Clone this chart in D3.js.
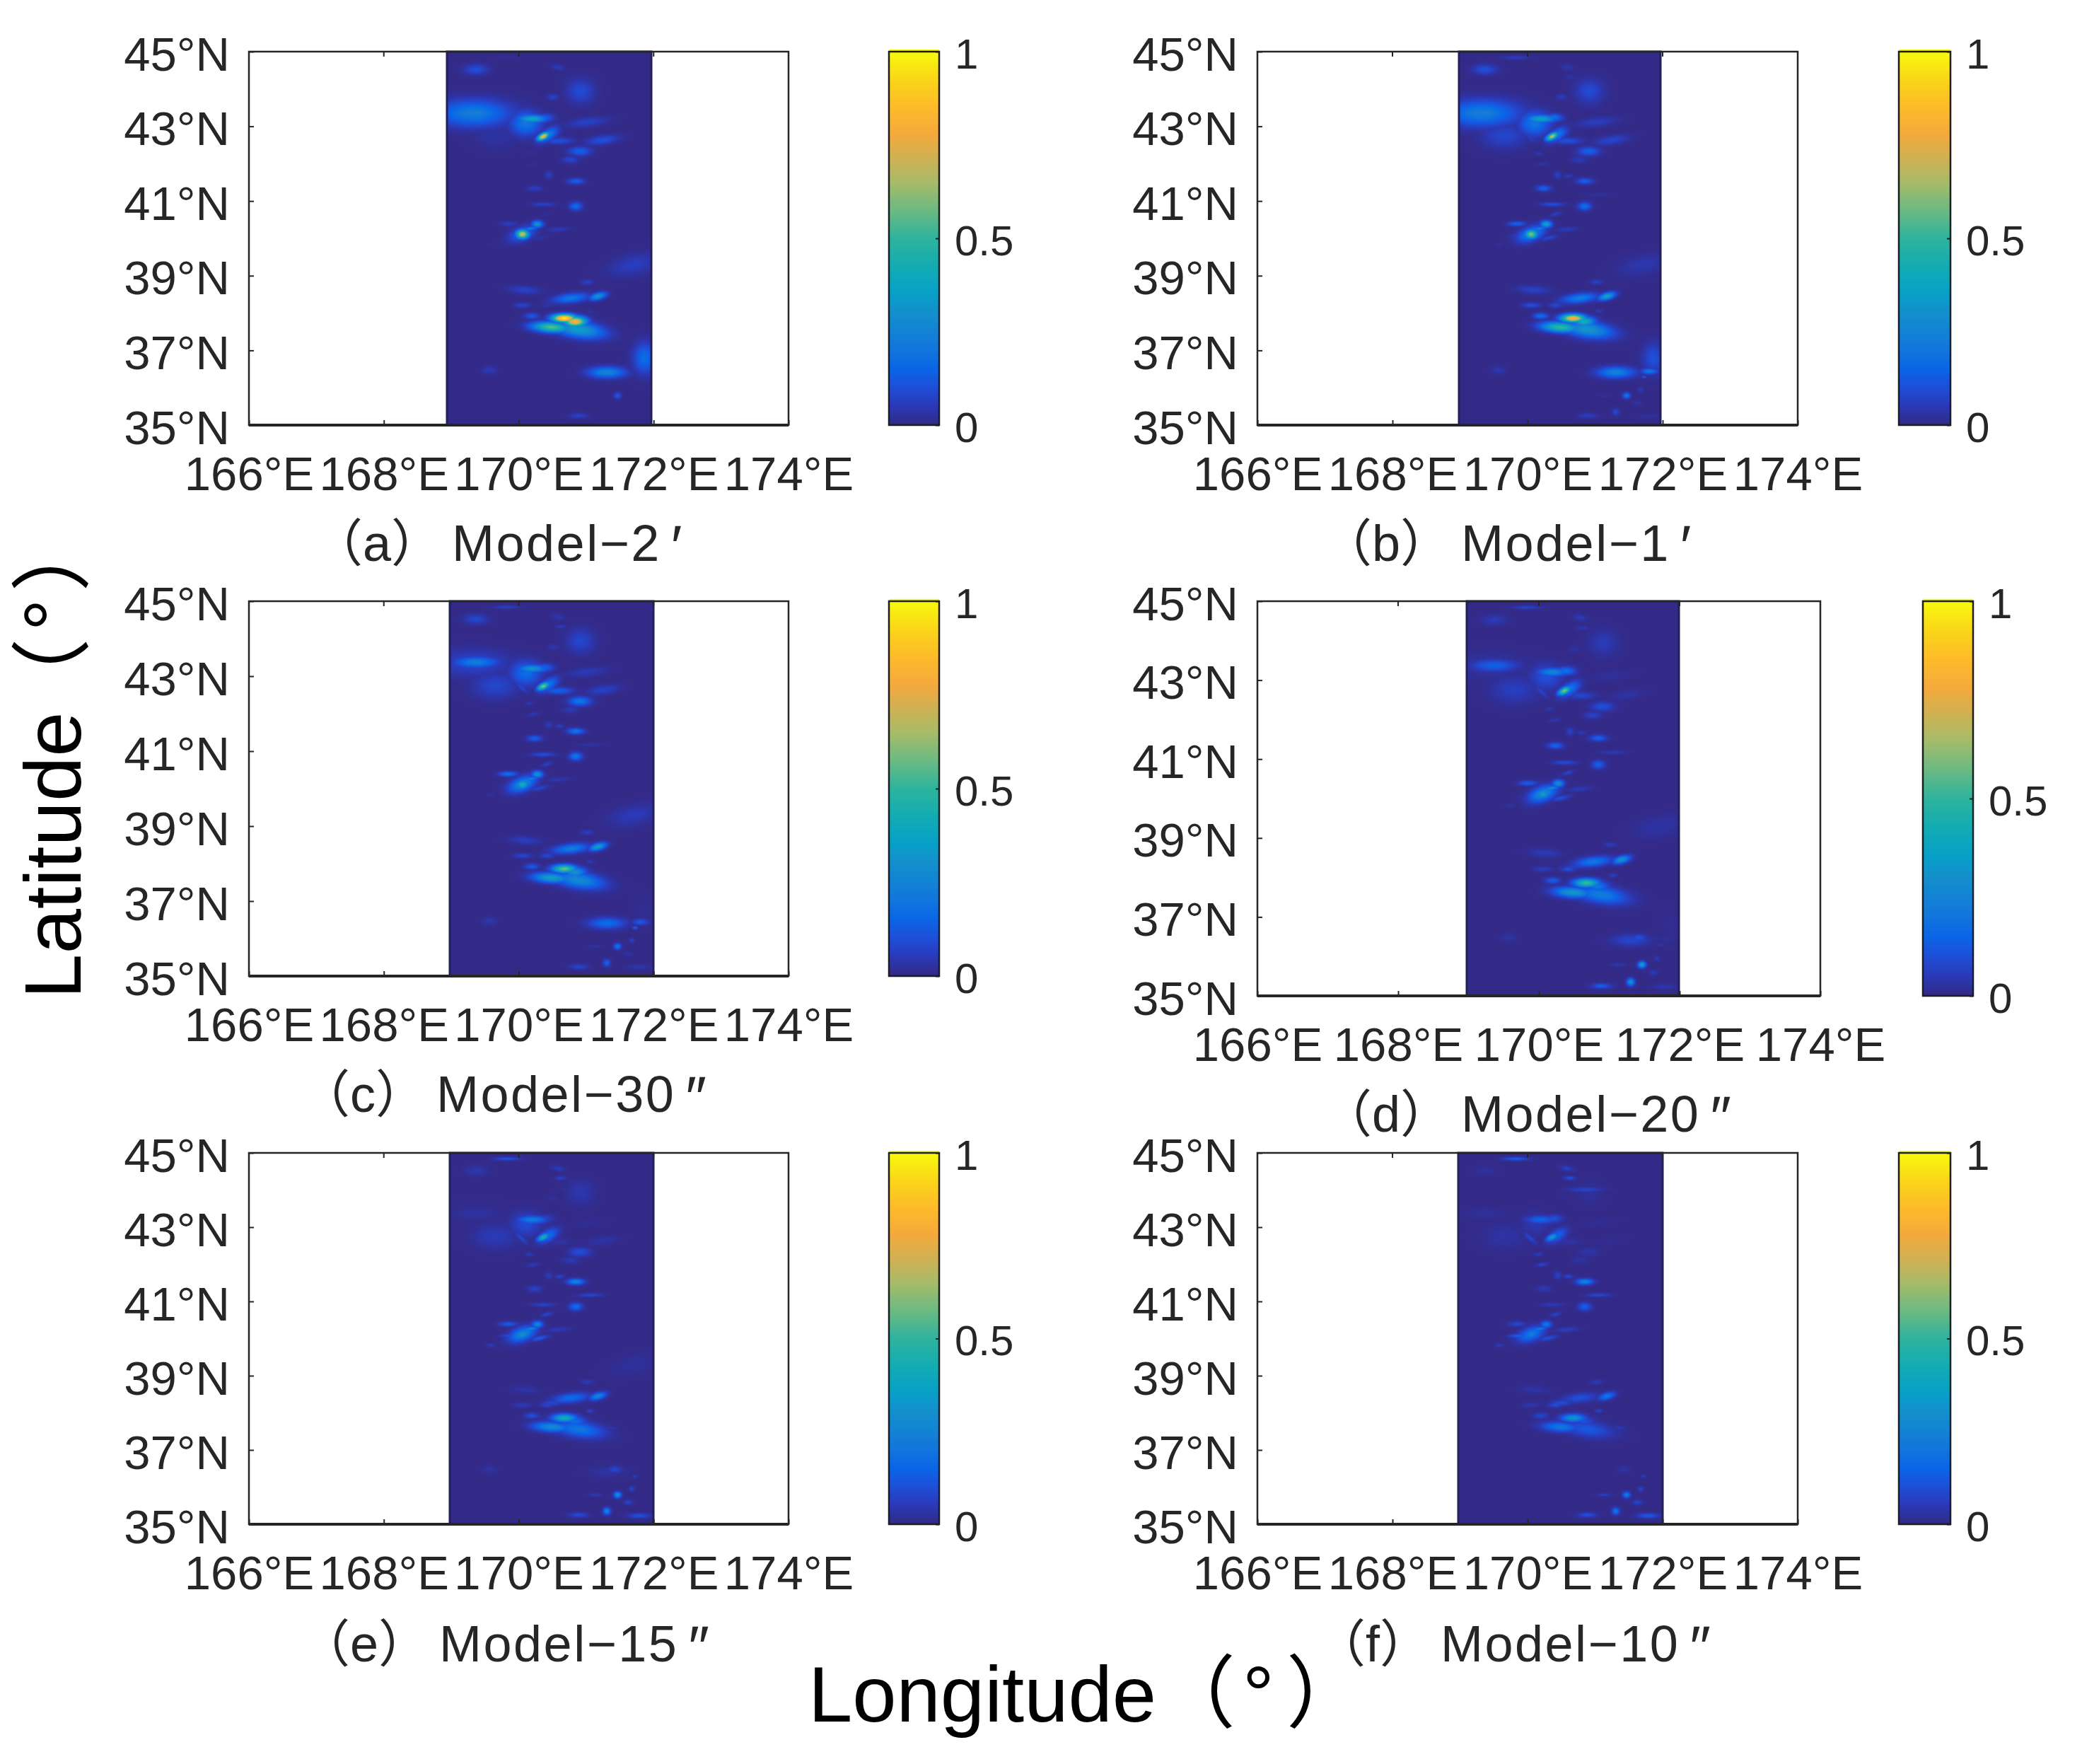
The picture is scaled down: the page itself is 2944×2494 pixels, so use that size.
<!DOCTYPE html>
<html>
<head>
<meta charset="utf-8">
<script src="https://cdn.jsdelivr.net/npm/d3@7"></script>
<style>
  html, body { margin: 0; background: #fff; }
  text { font-family: "Liberation Sans", "Noto Sans CJK SC", sans-serif; fill: #262626; }
</style>
</head>
<body>
<svg id="chart" width="2944" height="2494"></svg>
<script>
// tick labels and axis ranges
var lonTicks = [166, 168, 170, 172, 174];
var latTicks = [35, 37, 39, 41, 43, 45];
var barTicks = [0, 0.5, 1];
var dataLonStart = [168.94, 168.98, 168.98, 168.97, 168.98, 168.97];
var dataLonEnd = [171.97, 171.97, 172.0, 171.99, 172.0, 172.0];

var panelTitles = ["（a）", "（b）", "（c）", "（d）", "（e）", "（f）"];
var modelNames = ["Model−2", "Model−1", "Model−30", "Model−20", "Model−15", "Model−10"];
var modelMarks = ["′", "′", "″", "″", "″", "″"];

// colour bar stops
var colorStops = [0, 0.05, 0.1, 0.15, 0.2, 0.3, 0.35, 0.42, 0.5, 0.58, 0.65, 0.72, 0.78, 0.85, 0.92, 1];
var colorValues = ["#332a88", "#2a3ab8", "#1e4fd8", "#0a66e6", "#1276dc", "#148fcc", "#08a0c8", "#12abb4",
  "#2fb49c", "#72ba80", "#a8bb68", "#d4b050", "#f5aa3c", "#fdbb2a", "#fad41a", "#f8fa0d"];

// the visible patches of the error map: centre lon, centre lat, half width, half height (degrees), lean
var patchLon = [169.32, 169.36, 170.10, 170.19, 170.38, 170.36, 170.43, 170.58, 170.91, 170.50, 169.36, 170.58, 171.01, 171.24, 170.90, 170.76, 170.84, 170.84, 170.23, 170.44, 170.36, 170.05, 170.05, 170.27, 170.17, 169.84, 170.57, 170.67, 170.83, 170.48, 170.88, 170.77, 171.17, 170.19, 170.05, 170.08, 171.01, 171.70, 171.30, 171.86, 171.46, 170.88, 171.30, 171.42, 171.78, 171.72, 169.56, 171.67, 170.62, 169.82, 169.65, 170.86,
  170.60, 170.41, 170.30, 169.86, 169.58, 170.15, 170.21, 171.05, 170.03, 170.50, 170.41, 171.05, 171.36, 171.62, 171.13, 171.80];
var patchLat = [43.36, 43.38, 43.09, 43.21, 43.24, 42.74, 42.78, 42.62, 43.95, 43.79, 44.53, 44.59, 43.12, 42.64, 42.34, 42.12, 41.54, 40.87, 41.35, 41.71, 40.92, 40.12, 40.13, 40.39, 40.27, 40.40, 40.25, 37.87, 37.78, 37.63, 37.57, 38.41, 38.46, 37.93, 38.22, 38.63, 38.84, 39.30, 36.42, 36.80, 35.80, 35.26, 35.36, 36.48, 35.24, 36.30, 36.48, 35.96, 44.33, 44.85, 42.76, 44.02,
  41.68, 40.66, 40.02, 40.08, 39.83, 42.28, 42.00, 41.18, 42.72, 38.28, 38.22, 38.06, 37.60, 35.60, 35.80, 36.45];
var patchRLon = [0.41, 0.24, 0.17, 0.16, 0.10, 0.055, 0.09, 0.16, 0.15, 0.06, 0.13, 0.07, 0.20, 0.16, 0.12, 0.09, 0.09, 0.07, 0.08, 0.04, 0.13, 0.07, 0.13, 0.06, 0.08, 0.10, 0.12, 0.13, 0.12, 0.20, 0.25, 0.18, 0.08, 0.08, 0.10, 0.17, 0.07, 0.25, 0.20, 0.12, 0.04, 0.10, 0.04, 0.08, 0.12, 0.03, 0.08, 0.03, 0.06, 0.14, 0.25, 0.19,
  0.05, 0.05, 0.08, 0.10, 0.05, 0.05, 0.06, 0.14, 0.04, 0.12, 0.08, 0.04, 0.07, 0.05, 0.08, 0.09];
var patchRLat = [0.26, 0.11, 0.24, 0.08, 0.08, 0.08, 0.15, 0.07, 0.24, 0.06, 0.10, 0.06, 0.10, 0.10, 0.09, 0.07, 0.06, 0.08, 0.06, 0.07, 0.04, 0.09, 0.16, 0.07, 0.05, 0.05, 0.05, 0.08, 0.10, 0.10, 0.17, 0.10, 0.08, 0.06, 0.05, 0.08, 0.05, 0.22, 0.11, 0.30, 0.06, 0.05, 0.07, 0.07, 0.05, 0.03, 0.08, 0.05, 0.04, 0.035, 0.25, 0.05,
  0.04, 0.05, 0.06, 0.04, 0.04, 0.04, 0.04, 0.035, 0.12, 0.06, 0.05, 0.04, 0.04, 0.05, 0.03, 0.06];
var patchLean = [0, 0, 0, 0, 0, 0.4, 0.4, 0, 0, 0, 0, -0.4, 0.9, 0.8, 0, 0, 0, 0, 0, 0, 0, 0, 0.4, 0, 0.7, 0, 1, 0, 0, -0.4, -0.6, 0.7, 0.5, 0, 0, -0.5, 0, 0.5, 0, 0, 0, 0, 0, 0, 0, 0, 0, 0, 0, 0, 0, 0,
  0, 0.7, 1, 0, 0, 0, 0.7, 0.3, -0.5, 0.4, 0, 0, 0, 0, 0, 0];

// peak value of each patch in each model
var model2m  = [0.22, 0.24, 0.20, 0.38, 0.14, 0.80, 0.22, 0.10, 0.09, 0.07, 0.10, 0.05, 0.07, 0.10, 0.14, 0.08, 0.14, 0.17, 0.06, 0.07, 0.07, 0.72, 0.16, 0.30, 0.20, 0.06, 0.05, 0.98, 0.82, 0.55, 0.35, 0.20, 0.30, 0.12, 0.07, 0.07, 0.07, 0.06, 0.25, 0.17, 0.12, 0.07, 0.00, 0.00, 0.00, 0.00, 0.05, 0.00, 0.01, 0.01, 0.03, 0.00,
  0.00, 0.02, 0.03, 0.00, 0.01, 0.02, 0.01, 0.00, 0.02, 0.03, 0.03, 0.03, 0.01, 0.00, 0.00, 0.00];
var model1m  = [0.22, 0.24, 0.20, 0.36, 0.18, 0.68, 0.20, 0.10, 0.09, 0.05, 0.10, 0.04, 0.06, 0.08, 0.14, 0.05, 0.14, 0.18, 0.14, 0.07, 0.10, 0.60, 0.24, 0.36, 0.22, 0.14, 0.05, 0.82, 0.42, 0.50, 0.32, 0.22, 0.36, 0.17, 0.10, 0.07, 0.07, 0.04, 0.24, 0.10, 0.20, 0.06, 0.08, 0.00, 0.02, 0.10, 0.04, 0.05, 0.03, 0.06, 0.08, 0.00,
  0.05, 0.06, 0.08, 0.06, 0.02, 0.04, 0.03, 0.02, 0.06, 0.05, 0.08, 0.05, 0.02, 0.03, 0.02, 0.20];
var model30s = [0.08, 0.22, 0.17, 0.30, 0.14, 0.60, 0.20, 0.14, 0.08, 0.04, 0.08, 0.04, 0.05, 0.07, 0.20, 0.05, 0.20, 0.20, 0.14, 0.05, 0.10, 0.42, 0.27, 0.30, 0.22, 0.18, 0.04, 0.58, 0.30, 0.35, 0.27, 0.22, 0.35, 0.12, 0.08, 0.06, 0.06, 0.05, 0.17, 0.01, 0.20, 0.08, 0.14, 0.00, 0.04, 0.14, 0.04, 0.06, 0.05, 0.06, 0.08, 0.00,
  0.06, 0.06, 0.08, 0.05, 0.02, 0.04, 0.04, 0.03, 0.08, 0.05, 0.08, 0.05, 0.02, 0.03, 0.03, 0.12];
var model20s = [0.03, 0.14, 0.10, 0.25, 0.18, 0.60, 0.20, 0.08, 0.05, 0.03, 0.05, 0.05, 0.02, 0.03, 0.10, 0.07, 0.14, 0.14, 0.15, 0.07, 0.09, 0.35, 0.27, 0.28, 0.25, 0.13, 0.05, 0.52, 0.20, 0.32, 0.22, 0.20, 0.30, 0.13, 0.06, 0.05, 0.05, 0.03, 0.08, 0.01, 0.35, 0.13, 0.30, 0.10, 0.04, 0.04, 0.03, 0.05, 0.04, 0.07, 0.06, 0.00,
  0.05, 0.07, 0.10, 0.05, 0.03, 0.04, 0.04, 0.05, 0.07, 0.07, 0.10, 0.06, 0.03, 0.05, 0.04, 0.02];
var model15s = [0.01, 0.03, 0.09, 0.22, 0.07, 0.42, 0.18, 0.03, 0.04, 0.02, 0.04, 0.05, 0.01, 0.03, 0.10, 0.05, 0.25, 0.17, 0.07, 0.05, 0.07, 0.30, 0.25, 0.25, 0.25, 0.12, 0.05, 0.42, 0.17, 0.27, 0.20, 0.17, 0.25, 0.10, 0.05, 0.03, 0.05, 0.02, 0.03, 0.00, 0.30, 0.09, 0.25, 0.08, 0.10, 0.06, 0.03, 0.08, 0.07, 0.11, 0.05, 0.03,
  0.07, 0.08, 0.12, 0.10, 0.05, 0.05, 0.05, 0.08, 0.08, 0.08, 0.07, 0.07, 0.04, 0.07, 0.05, 0.00];
var model10s = [0.00, 0.02, 0.04, 0.15, 0.10, 0.32, 0.15, 0.03, 0.02, 0.01, 0.02, 0.06, 0.01, 0.01, 0.03, 0.03, 0.25, 0.14, 0.05, 0.07, 0.05, 0.22, 0.20, 0.20, 0.20, 0.08, 0.06, 0.30, 0.10, 0.20, 0.12, 0.10, 0.20, 0.08, 0.04, 0.03, 0.05, 0.00, 0.00, 0.00, 0.22, 0.10, 0.20, 0.03, 0.12, 0.05, 0.00, 0.07, 0.10, 0.13, 0.03, 0.07,
  0.08, 0.07, 0.10, 0.14, 0.05, 0.05, 0.07, 0.08, 0.08, 0.09, 0.10, 0.07, 0.05, 0.08, 0.06, 0.00];
var modelPeaks = [model2m, model1m, model30s, model20s, model15s, model10s];

// page layout, in pixels
var panels = [
  { left: 352,  right: 1115, top: 73,  bottom: 601,  barLeft: 1257, barRight: 1328, titleX: 441,  titleY: 793 },
  { left: 1778, right: 2542, top: 73,  bottom: 601,  barLeft: 2685, barRight: 2758, titleX: 1868, titleY: 793 },
  { left: 352,  right: 1115, top: 850, bottom: 1380, barLeft: 1257, barRight: 1328, titleX: 423,  titleY: 1572 },
  { left: 1778, right: 2574, top: 850, bottom: 1408, barLeft: 2719, barRight: 2790, titleX: 1868, titleY: 1600 },
  { left: 352,  right: 1115, top: 1630, bottom: 2155, barLeft: 1257, barRight: 1328, titleX: 423, titleY: 2349 },
  { left: 1778, right: 2542, top: 1630, bottom: 2155, barLeft: 2685, barRight: 2758, titleX: 1859, titleY: 2349 }
];

var svg = d3.select("#chart");
var color = d3.scaleLinear().domain(colorStops).range(colorValues).interpolate(d3.interpolateRgb).clamp(true);
var axisColor = "#262626";

function fieldValue(peaks, lon, lat) {
  /* Strongest patch at this spot, each one fading out from its centre. */
  var best = 0;
  for (var i = 0; i < peaks.length; i++) {
    if (!peaks[i]) continue;
    var dy = (lat - patchLat[i]) / patchRLat[i];
    var dx = (lon - patchLon[i] - patchLean[i] * (lat - patchLat[i])) / patchRLon[i];
    var v = peaks[i] * Math.exp(-0.6 * (dx * dx + dy * dy));
    if (v > best) best = v;
  }
  return best;
}

function drawHeat(panel, peaks, x, y, lonStart, lonEnd) {
  /* Paint the map on a canvas, then hand it to the svg as an image. */
  var x0 = Math.round(x(lonStart)), x1 = Math.round(x(lonEnd));
  var y0 = panel.top, y1 = panel.bottom;
  var canvas = document.createElement("canvas");
  canvas.width = x1 - x0;
  canvas.height = y1 - y0;
  var ctx = canvas.getContext("2d");
  var img = ctx.createImageData(canvas.width, canvas.height);
  for (var row = 0; row < canvas.height; row++) {
    for (var col = 0; col < canvas.width; col++) {
      var c = d3.rgb(color(fieldValue(peaks, x.invert(x0 + col), y.invert(y0 + row))));
      var k = (row * canvas.width + col) * 4;
      img.data[k] = c.r;
      img.data[k + 1] = c.g;
      img.data[k + 2] = c.b;
      img.data[k + 3] = 255;
    }
  }
  ctx.putImageData(img, 0, 0);
  svg.append("image")
    .attr("x", x0).attr("y", y0)
    .attr("width", canvas.width).attr("height", canvas.height)
    .attr("href", canvas.toDataURL());
  // the map edges come out darker in the original
  svg.append("rect")
    .attr("x", x0).attr("y", y0)
    .attr("width", canvas.width).attr("height", canvas.height)
    .attr("fill", "none").attr("stroke", "#22205a").attr("stroke-width", 3);
}

function drawAxes(panel, x, y) {
  var xAxis = d3.axisBottom(x).tickValues(lonTicks).tickSize(-7).tickPadding(0).tickFormat(function (d) { return d + "°E"; });
  var yAxis = d3.axisLeft(y).tickValues(latTicks).tickSize(-7).tickPadding(0).tickFormat(function (d) { return d + "°N"; });

  var gx = svg.append("g").attr("transform", "translate(0," + panel.bottom + ")").call(xAxis);
  gx.select(".domain").remove();
  gx.selectAll("line").attr("stroke", axisColor).attr("stroke-width", 2);
  gx.selectAll("text").attr("y", 92).attr("dy", 0).attr("font-size", 67).attr("font-family", null);

  var gy = svg.append("g").attr("transform", "translate(" + panel.left + ",0)").call(yAxis);
  gy.select(".domain").remove();
  gy.selectAll("line").attr("stroke", axisColor).attr("stroke-width", 2);
  gy.selectAll("text").attr("x", -27).attr("dy", 26).attr("font-size", 67).attr("font-family", null);

  // top ticks, like the bottom ones
  svg.append("g").selectAll("line").data(lonTicks).join("line")
    .attr("x1", x).attr("x2", x)
    .attr("y1", panel.top).attr("y2", panel.top + 7)
    .attr("stroke", axisColor).attr("stroke-width", 2);

  svg.append("rect")
    .attr("x", panel.left).attr("y", panel.top)
    .attr("width", panel.right - panel.left).attr("height", panel.bottom - panel.top)
    .attr("fill", "none").attr("stroke", axisColor).attr("stroke-width", 2.5);
  svg.append("line")
    .attr("x1", panel.left).attr("x2", panel.right)
    .attr("y1", panel.bottom).attr("y2", panel.bottom)
    .attr("stroke", axisColor).attr("stroke-width", 4);
}

function drawBar(panel) {
  var b = d3.scaleLinear().domain([0, 1]).range([panel.bottom, panel.top]);
  var levels = d3.range(0, 256).map(function (d) { return d / 255; });
  var h = (panel.bottom - panel.top) / 256 + 1;
  svg.append("g").selectAll("rect").data(levels).join("rect")
    .attr("x", panel.barLeft)
    .attr("y", function (d) { return b(d) - h; })
    .attr("width", panel.barRight - panel.barLeft)
    .attr("height", h)
    .attr("fill", function (d) { return color(d); });
  svg.append("rect")
    .attr("x", panel.barLeft).attr("y", panel.top)
    .attr("width", panel.barRight - panel.barLeft).attr("height", panel.bottom - panel.top)
    .attr("fill", "none").attr("stroke", "#1c1c24").attr("stroke-width", 2.5);

  var axis = d3.axisRight(b).tickValues(barTicks).tickSize(-5).tickPadding(0).tickFormat(d3.format("~g"));
  var g = svg.append("g").attr("transform", "translate(" + panel.barRight + ",0)").call(axis);
  g.select(".domain").remove();
  g.selectAll("line").attr("stroke", "#1c1c24").attr("stroke-width", 2);
  g.selectAll("text").attr("x", 22).attr("dy", 23).attr("font-size", 60).attr("font-family", null);
}

panels.forEach(function (panel, i) {
  var x = d3.scaleLinear().domain([lonTicks[0], lonTicks[lonTicks.length - 1]]).range([panel.left, panel.right]);
  var y = d3.scaleLinear().domain([latTicks[0], latTicks[latTicks.length - 1]]).range([panel.bottom, panel.top]);
  drawHeat(panel, modelPeaks[i], x, y, dataLonStart[i], dataLonEnd[i]);
  drawAxes(panel, x, y);
  drawBar(panel);

  var t = svg.append("text").attr("x", panel.titleX).attr("y", panel.titleY).attr("font-size", 72);
  t.append("tspan").text(panelTitles[i]);
  t.append("tspan").attr("dx", 14).attr("letter-spacing", 2.5).text(modelNames[i]);
  t.append("tspan").attr("dx", 10).attr("dy", 8).attr("font-style", "italic").attr("font-size", 84).text(modelMarks[i]);
});

// shared axis titles
var lonTitle = svg.append("text").attr("x", 1143).attr("y", 2434).attr("font-size", 112).style("fill", "#000");
lonTitle.append("tspan").text("Longitude（");
lonTitle.append("tspan").attr("dx", 10).text("°");
lonTitle.append("tspan").attr("dx", 17).text("）");

var latTitle = svg.append("text").attr("transform", "translate(114,1412) rotate(-90)").attr("font-size", 114).style("fill", "#000");
latTitle.append("tspan").text("Latitude");
latTitle.append("tspan").attr("dx", -10).text("（");
latTitle.append("tspan").attr("dx", 10).text("°");
latTitle.append("tspan").attr("dx", 10).text("）");
</script>
</body>
</html>
